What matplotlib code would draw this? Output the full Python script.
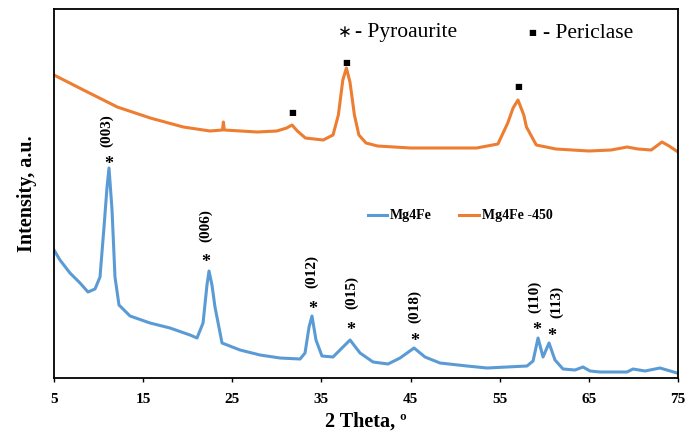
import matplotlib
matplotlib.use("Agg")
import matplotlib.pyplot as plt

# ---- data (intensity in arbitrary units) ----
theta_mg4fe = [5.0, 5.67, 6.79, 7.92, 8.81, 9.60, 10.16, 10.61, 10.95, 11.17, 11.51,
               11.84, 12.29, 13.53, 15.77, 18.01, 20.26, 21.04, 21.72, 22.16, 22.39,
               22.72, 23.06, 23.85, 25.87, 28.11, 30.35, 32.60, 33.16, 33.61, 33.94,
               34.39, 35.06, 36.30, 37.08, 38.21, 39.33, 40.79, 42.47, 43.82, 45.39,
               46.62, 48.30, 51.33, 53.58, 55.82, 58.06, 58.74, 59.30, 59.86, 60.53,
               61.20, 62.10, 63.45, 64.34, 65.13, 66.25, 69.28, 69.95, 71.30, 72.98,
               74.89, 75.0]
int_mg4fe = [128, 118, 105, 95, 86, 89, 101, 151, 191, 210, 168,
             101, 73, 62, 55, 50, 43, 40, 55, 93, 107,
             93, 71, 35, 28, 23, 20, 19, 25, 51, 62,
             38, 22, 21, 28, 38, 25, 16, 14, 20, 30,
             21, 15, 12, 10, 11, 12, 17, 40, 21, 35,
             18, 9, 8, 11, 7, 6, 6, 9, 7, 10,
             5, 5]

theta_mg4fe450 = [5.0, 8.3, 12.1, 15.8, 19.5, 22.5, 23.9, 24.0, 24.1, 27.8, 30.0,
                  31.1, 31.7, 32.3, 33.2, 35.2, 36.3, 36.9, 37.4, 37.8, 38.2,
                  38.7, 39.2, 40.0, 41.3, 45.0, 48.7, 52.4, 54.8, 55.9, 56.5,
                  57.05, 57.7, 58.0, 59.1, 61.3, 65.0, 67.5, 69.3, 70.5, 72.0,
                  73.2, 74.0, 75.0]
int_mg4fe450 = [303, 288, 271, 260, 251, 247, 248, 256, 248, 246, 247,
                250, 253, 247, 240, 238, 243, 263, 298, 310, 296,
                263, 243, 235, 232, 230, 230, 230, 234, 255, 270,
                278, 263, 251, 233, 229, 227, 228, 231, 229, 228,
                236, 232, 226]

hkl_labels = ["(003)", "(006)", "(012)", "(015)", "(018)", "(110)", "(113)"]
hkl_theta = [11.17, 22.39, 33.94, 38.21, 45.39, 59.30, 60.53]
hkl_int = [210, 107, 62, 38, 30, 40, 35]

periclase_theta = [31.7, 37.8, 57.05]
periclase_int = [253, 310, 278]

xticks = [5, 15, 25, 35, 45, 55, 65, 75]

BLUE = "#5B9BD5"
ORANGE = "#ED7D31"
SERIF = "Liberation Serif"
PT = 0.72  # points per pixel at 100 dpi

fig = plt.figure(figsize=(6.86, 4.37), dpi=100)
ax = fig.add_axes([54 / 686, 59 / 437, 624 / 686, 369 / 437])

ax.plot(theta_mg4fe, int_mg4fe, color=BLUE, lw=2.2, label="Mg4Fe")
ax.plot(theta_mg4fe450, int_mg4fe450, color=ORANGE, lw=2.2, label="Mg4Fe -450")

ax.set_xlim(5, 75)
ax.set_ylim(0, 369)
ax.set_xticks(xticks)
ax.set_xticklabels([str(t) for t in xticks], fontfamily=SERIF, fontweight="bold", fontsize=11)
ax.set_yticks([])
ax.tick_params(axis="x", direction="out", length=3, width=1, pad=8)
for s in ax.spines.values():
    s.set_linewidth(1.3)
    s.set_color("black")

ax.set_xlabel("2 Theta, º", fontfamily=SERIF, fontweight="bold", fontsize=14.5, labelpad=4)
ax.set_ylabel("Intensity, a.u.", fontfamily=SERIF, fontweight="bold", fontsize=14.5, labelpad=12)

# hkl annotations (asterisk + rotated label); layout offsets in pixels
star_dx = [0, -3, 1, 1, 1, -1, 3]
star_dy = [8, 13, 11, 14, 11, 12, 11]
lab_dx = [-2, -3, 0, 2, 1, -3, 8]
lab_dy = [21, 29, 28, 31, 25, 25, 25]
STAR_FS = 13
star_center = 0.48 * STAR_FS / PT  # glyph centre above baseline, px
for i, (lab, t, v) in enumerate(zip(hkl_labels, hkl_theta, hkl_int)):
    ax.annotate("*", xy=(t, v),
                xytext=(star_dx[i] * PT, (star_dy[i] - star_center) * PT),
                textcoords="offset points", ha="center", va="baseline",
                fontfamily=SERIF, fontweight="bold", fontsize=STAR_FS)
    ax.annotate(lab, xy=(t, v), xytext=(lab_dx[i] * PT, lab_dy[i] * PT),
                textcoords="offset points", ha="center", va="bottom", rotation=90,
                fontfamily=SERIF, fontweight="bold", fontsize=11)

# periclase markers
sq_dy = [13, 6, 13]
for i, (t, v) in enumerate(zip(periclase_theta, periclase_int)):
    ax.annotate("■", xy=(t, v), xytext=(0, sq_dy[i] * PT), textcoords="offset points",
                ha="center", va="center", fontfamily="DejaVu Sans", fontsize=6)

# phase key
kc = 1 - 32 / 437      # symbol centre
kb = 1 - 37.5 / 437    # text baseline
fig.text(345 / 686, kc, "∗", fontfamily=["DejaVu Sans"], fontsize=12, ha="center", va="center")
fig.text(355 / 686, kb, "- Pyroaurite", fontfamily=SERIF, fontsize=15.5, ha="left", va="baseline")
fig.text(532 / 686, kc, "■", fontfamily="DejaVu Sans", fontsize=6, ha="center", va="center")
fig.text(543 / 686, kb, "- Periclase", fontfamily=SERIF, fontsize=15.5, ha="left", va="baseline")

leg = ax.legend(loc="center", bbox_to_anchor=((460 - 54) / 624, (378 - 216) / 369),
                ncol=2, frameon=False, handlelength=1.4, handletextpad=0.2,
                columnspacing=2.0, prop={"family": SERIF, "weight": "bold", "size": 10})

fig.savefig("out.png", dpi=100)
